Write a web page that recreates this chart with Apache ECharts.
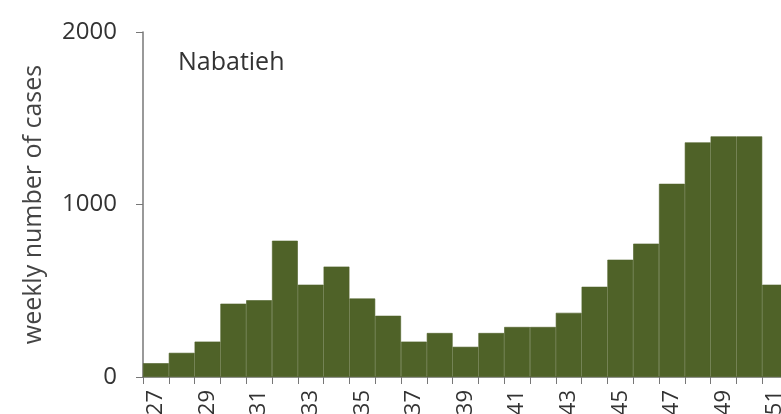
<!DOCTYPE html>
<html><head><meta charset="utf-8">
<script src="https://cdn.jsdelivr.net/npm/echarts@6/dist/echarts.min.js"></script>
<style>html,body{margin:0;padding:0;background:#fff}#c{width:781px;height:414px}</style>
</head><body><div id="c"></div>
<script>
const weeks = ['27','28','29','30','31','32','33','34','35','36','37','38','39','40','41','42','43','44','45','46','47','48','49','50','51'];
const cases = [80,140,205,425,445,790,535,640,455,355,205,255,175,255,290,290,372,523,680,773,1120,1360,1395,1395,535];
const yTicks = [0,1000,2000];
const chart = echarts.init(document.getElementById('c'));
chart.setOption({
  animation:false,
  grid:{left:143,top:32,bottom:37,right:-7,containLabel:false,outerBoundsMode:'none'},
  title:{text:'Nabatieh',left:173,top:45,textStyle:{fontFamily:'Open Sans',fontSize:25,fontWeight:'normal',color:'#333'}},
  xAxis:{type:'category',data:weeks,
    axisLine:{lineStyle:{color:'#777',width:1.5}},
    axisTick:{show:true,interval:0,length:7,lineStyle:{color:'#777'}},
    axisLabel:{interval:1,rotate:90,fontFamily:'Open Sans',fontSize:22,color:'#333',margin:13}},
  yAxis:{type:'value',min:yTicks[0],max:yTicks[2],interval:1000,
    name:'weekly number of cases',nameLocation:'middle',nameGap:97,
    nameTextStyle:{fontFamily:'Open Sans',fontSize:25,color:'#444'},
    axisLine:{show:true,lineStyle:{color:'#777',width:1.5}},
    axisTick:{show:true,length:7,lineStyle:{color:'#777'}},
    splitLine:{show:false},
    axisLabel:{fontFamily:'Open Sans',fontSize:24,color:'#333',margin:26,formatter:function(v){return String(v);}}},
  series:[{type:'bar',data:cases,barCategoryGap:0,itemStyle:{color:'#4F6228',borderColor:'#4F6228',borderWidth:0.6}}]
});
</script></body></html>
